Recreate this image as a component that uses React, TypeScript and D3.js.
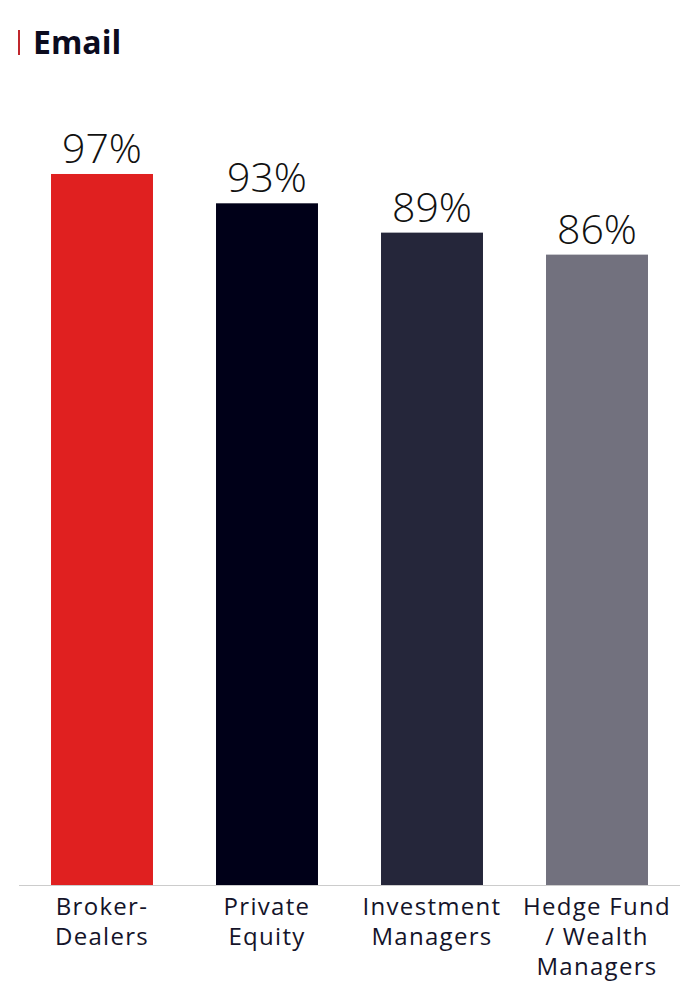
import React from "react";
import * as d3 from "d3";

const categories: string[][] = [
  ["Broker-", "Dealers"],
  ["Private", "Equity"],
  ["Investment", "Managers"],
  ["Hedge Fund", "/ Wealth", "Managers"],
];
const categoryKeys = ["Broker-Dealers", "Private Equity", "Investment Managers", "Hedge Fund / Wealth Managers"];
const values = [97, 93, 89, 86];
const colors = ["#E02020", "#000018", "#25263A", "#72717E"];
const title = "Email";

const W = 700;
const H = 1000;
const FONT = "'Open Sans', 'Noto Sans', sans-serif";

export default function App() {
  const x = d3
    .scaleBand<string>()
    .domain(categoryKeys)
    .range([19.5, 679.5])
    .paddingInner(0.382)
    .paddingOuter(0.191);
  const y = d3.scaleLinear().domain([0, 100]).range([885, 152]);

  return (
    <svg
      width={W}
      height={H}
      style={{ position: "absolute", left: 0, top: 0, background: "#fff" }}
      fontFamily={FONT}
    >
      <rect x={18} y={30} width={2} height={25} fill="#C0272D" />
      <text x={33} y={54} fontSize={32} fontWeight={700} fill="#0B0B1E">
        {title}
      </text>
      {categoryKeys.map((k, i) => {
        const bx = x(k)!;
        const bw = x.bandwidth();
        return (
          <g key={k}>
            <rect x={bx} y={y(values[i])} width={bw} height={y(0) - y(values[i])} fill={colors[i]} />
            <text
              x={bx + bw / 2}
              y={y(values[i]) - 11}
              textAnchor="middle"
              fontSize={41}
              fontWeight={300}
              fill="#111"
            >
              {values[i]}%
            </text>
            {categories[i].map((line, j) => (
              <text
                key={j}
                x={bx + bw / 2}
                y={915 + j * 30}
                textAnchor="middle"
                fontSize={24}
                fontWeight={400}
                letterSpacing={1.3}
                fill="#14142a"
              >
                {line}
              </text>
            ))}
          </g>
        );
      })}
      <line x1={19} x2={680} y1={885.5} y2={885.5} stroke="#cccccc" strokeWidth={1} />
    </svg>
  );
}
